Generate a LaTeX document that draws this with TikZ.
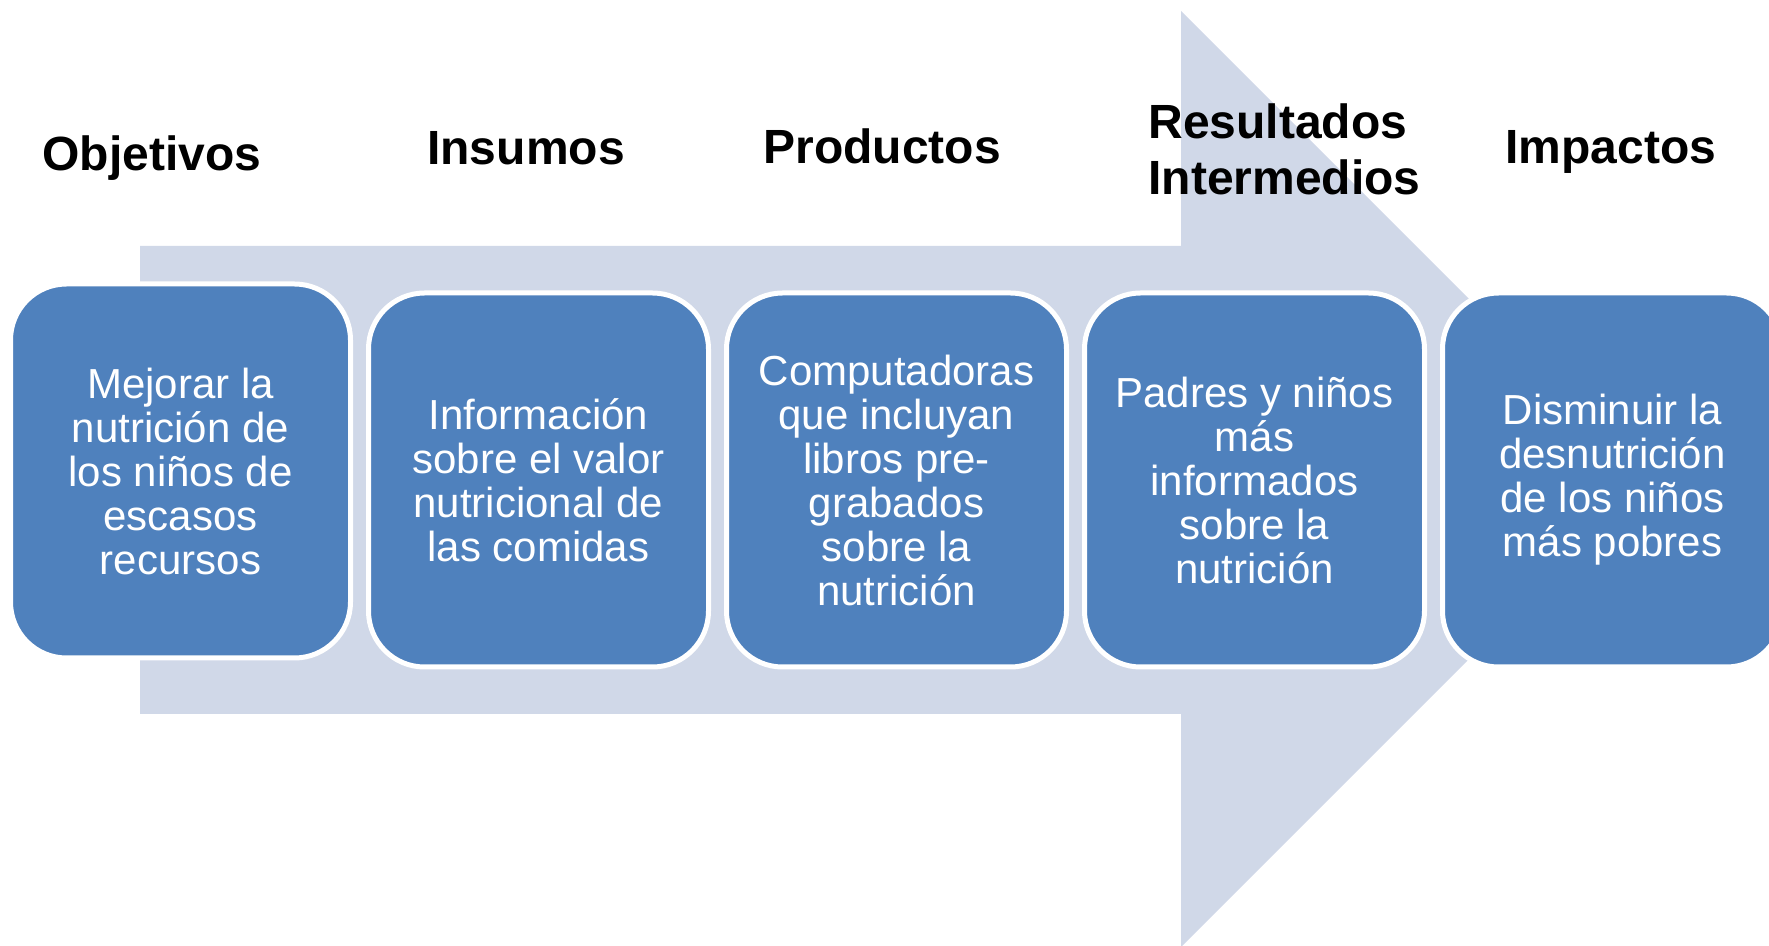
\documentclass[tikz,border=0pt]{standalone}
\usepackage{fontspec}
\setmainfont{Liberation Sans}
\usetikzlibrary{positioning}

\definecolor{arrowfill}{HTML}{D0D8E8}
\definecolor{stagefill}{HTML}{4F81BD}

\begin{document}
\begin{tikzpicture}[
    x=0.5pt,
    y=-0.5pt,
    node distance=6.5pt,
    text centered
  ]

  \tikzstyle{stage} = [rectangle, draw=white, line width=2.5pt, fill=stagefill, rounded corners=28pt, minimum width=170pt, minimum height=187pt, text=white, align=center, inner sep=0pt, font=\fontsize{21}{22}\selectfont]
  \tikzstyle{head} = [align=center, inner sep=0pt, font=\fontsize{24}{28}\selectfont\bfseries]

  \useasboundingbox (0,0) rectangle (1769,946);
  \clip (0,0) rectangle (1769,946);

  \fill[arrowfill] (140,246) -- (1181,246) -- (1181,11) -- (1649,479) -- (1181,947) -- (1181,714) -- (140,714) -- cycle;

  \node [stage] (objetivos) at (180.5,471) {Mejorar la\\nutrición de\\los niños de\\escasos\\recursos};
  \node [stage, right=of objetivos, yshift=-4.5pt] (insumos) {Información\\sobre el valor\\nutricional de\\las comidas};
  \node [stage, right=of insumos] (productos) {Computadoras\\que incluyan\\libros pre-\\grabados\\sobre la\\nutrición};
  \node [stage, right=of productos] (resultados) {Padres y niños\\más\\informados\\sobre la\\nutrición};
  \node [stage, right=of resultados] (impactos) {Disminuir la\\desnutrición\\de los niños\\más pobres};

  \node [head, anchor=base] (hobjetivos) at (152,171) {Objetivos};
  \node [head, anchor=base] (hinsumos) at (526,165) {Insumos};
  \node [head, anchor=base] (hproductos) at (882,163.5) {Productos};
  \node [head, anchor=north west, align=left] (hresultados) at (1148,103) {Resultados\\Intermedios};
  \node [head, anchor=base] (himpactos) at (1611,163.5) {Impactos};

\end{tikzpicture}
\end{document}
